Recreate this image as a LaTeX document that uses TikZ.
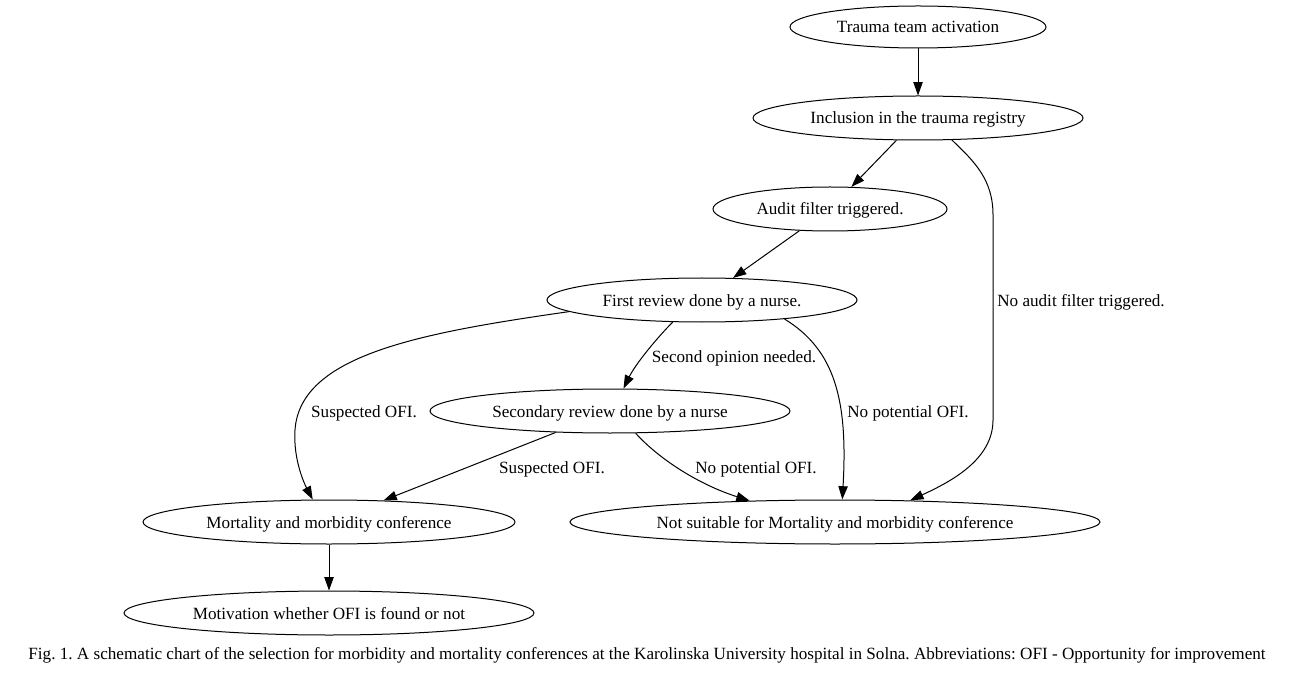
\documentclass[tikz,border=0pt]{standalone}
\usepackage{fontspec}
\setmainfont{Liberation Serif}
\usetikzlibrary{shapes.geometric,arrows.meta}
\frenchspacing
\begin{document}
\begin{tikzpicture}[x=0.75pt,y=-0.75pt,
  every node/.style={font=\fontsize{12.85}{15}\selectfont},
  stage/.style={ellipse,draw,line width=0.75pt,inner sep=0pt,minimum height=0.75*44pt,text height=9pt,text depth=0pt},
  arr/.style={line width=0.75pt,-{Triangle[length=10pt,width=7pt]}},
  lbl/.style={inner sep=0pt,text height=9pt,text depth=0pt}]
\useasboundingbox (0,0) rectangle (1294,673);
\node[stage,minimum width=0.75*256pt,minimum height=0.75*42pt] (n1) at (918,27) {Trauma team activation};
\node[stage,minimum width=0.75*330pt] (n2) at (918,118) {Inclusion in the trauma registry};
\node[stage,minimum width=0.75*234pt] (n3) at (830,209) {Audit filter triggered.};
\node[stage,minimum width=0.75*310pt] (n4) at (702,300) {First review done by a nurse.};
\node[stage,minimum width=0.75*360pt] (n5) at (610,411) {Secondary review done by a nurse};
\node[stage,minimum width=0.75*372pt] (n6) at (329,522) {Mortality and morbidity conference};
\node[stage,minimum width=0.75*530pt] (n7) at (835,522) {Not suitable for Mortality and morbidity conference};
\node[stage,minimum width=0.75*410pt] (n8) at (329,613) {Motivation whether OFI is found or not};
\node[lbl] (cap) at (647,653) {Fig. 1. A schematic chart of the selection for morbidity and mortality conferences at the Karolinska University hospital in Solna. Abbreviations: OFI - Opportunity for improvement};

\draw[arr] (n1) -- (n2);
\draw[arr] (n2) -- (n3);
\draw[arr] (n3) -- (n4);
\draw[arr] (n5) -- (n6);
\draw[arr] (n6) -- (n8);
\draw[arr] (n2.-33) .. controls (975,162) and (993,180) .. (993,215) -- (993,420) .. controls (993,460) and (950,482) .. (n7.16);
\draw[arr] (n4.185) .. controls (420,333) and (300,355) .. (295,430) .. controls (293,460) and (305,485) .. (n6.126);
\draw[arr] (n4.217) .. controls (655,340) and (635,365) .. (n5.59);
\draw[arr] (n4.-13) .. controls (835,350) and (848,400) .. (n7.72);
\draw[arr] (n5.-41) .. controls (660,460) and (700,485) .. (n7.166);

\node[lbl,anchor=west] (l1) at (997,300) {No audit filter triggered.};
\node[lbl] (l2) at (364,411) {Suspected OFI.};
\node[lbl] (l3) at (734,356) {Second opinion needed.};
\node[lbl,anchor=west] (l4) at (847,411) {No potential OFI.};
\node[lbl] (l5) at (552,467) {Suspected OFI.};
\node[lbl] (l6) at (756,467) {No potential OFI.};
\end{tikzpicture}
\end{document}
